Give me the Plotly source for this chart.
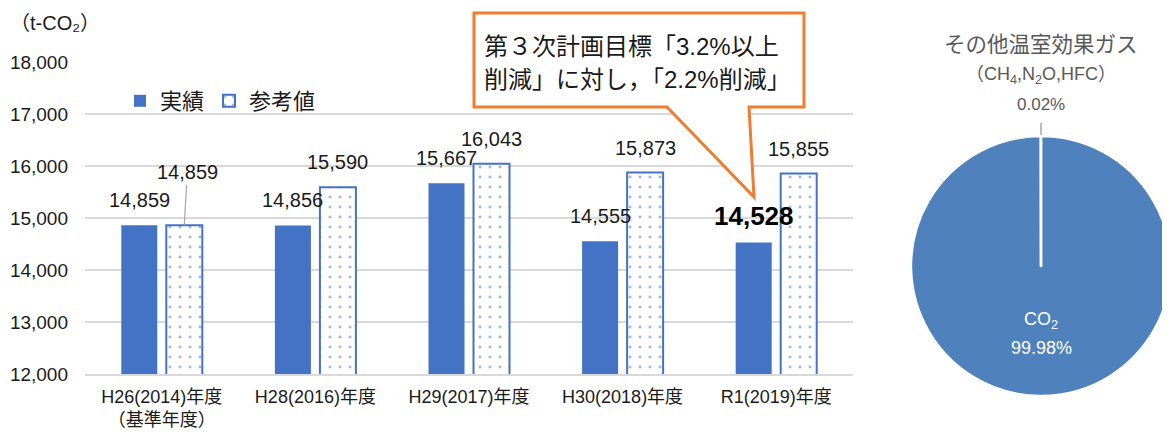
import plotly.graph_objects as go

# ---------------- data ----------------
categories = ["H26(2014)年度<br>（基準年度）", "H28(2016)年度", "H29(2017)年度",
              "H30(2018)年度", "R1(2019)年度"]
actual = [14859, 14856, 15667, 14555, 14528]
reference = [14859, 15590, 16043, 15873, 15855]
series_names = ["実績", "参考値"]
y_ticks = [12000, 13000, 14000, 15000, 16000, 17000, 18000]

pie_labels = ["CO<sub>2</sub>", "その他温室効果ガス"]
pie_sub = ["", "（CH<sub>4</sub>,N<sub>2</sub>O,HFC）"]
pie_values = [99.98, 0.02]

unit_label = "（t-CO₂）"
callout_lines = ["第３次計画目標「3.2%以上", "削減」に対し，「2.2%削減」"]

BOLD_INDEX = 4      # highlighted actual value
LEADER_INDEX = 0    # reference label lifted with leader line

# ---------------- styles ----------------
# the page body has an 8px default margin; figure coordinates are offset by it
OX, OY = 8, 8
W, H = 1163, 424
FONT = "Liberation Sans, Arial, Noto Sans CJK JP, sans-serif"
BLUE = "#4472C4"
PIE_BLUE = "#4F81BD"
ORANGE = "#ED7D31"
GRID = "#D9D9D9"
TXT = "#1a1a1a"
GRAYTXT = "#595959"


def px_x(x):
    return (x - OX) / W


def px_y(y):
    return 1 - (y - OY) / H


fig = go.Figure()

fig.add_trace(go.Bar(
    x=categories, y=actual, name=series_names[0],
    marker=dict(color=BLUE, line=dict(color=BLUE, width=0)),
    hoverinfo="skip",
))
fig.add_trace(go.Bar(
    x=categories, y=reference, name=series_names[1],
    marker=dict(color="white", line=dict(color=BLUE, width=2),
                pattern=dict(shape=".", fgcolor=BLUE, bgcolor="white",
                             size=10, solidity=0.07)),
    hoverinfo="skip",
))

fig.add_trace(go.Pie(
    labels=pie_labels, values=pie_values, sort=False, direction="clockwise",
    rotation=0, textinfo="none", showlegend=False, hoverinfo="skip",
    marker=dict(colors=[PIE_BLUE, "#A5A5A5"], line=dict(color="white", width=2.5)),
    domain=dict(x=[px_x(911), 1.0], y=[px_y(396), px_y(136)]),
))

annotations = []
OFF = 22.5
for i, cat in enumerate(categories):
    bold = i == BOLD_INDEX
    txt = f"{actual[i]:,}"
    annotations.append(dict(
        x=cat, y=actual[i], xref="x", yref="y", xshift=-OFF,
        yshift=27 if bold else 25, xanchor="center", yanchor="middle",
        text=f"<b>{txt}</b>" if bold else txt, showarrow=False,
        font=dict(size=26 if bold else 20, color="black" if bold else TXT, family=FONT),
    ))
    rtxt = f"{reference[i]:,}"
    if i == LEADER_INDEX:
        annotations.append(dict(
            x=cat, y=reference[i], xref="x", yref="y", xshift=OFF,
            text=rtxt, showarrow=True, arrowhead=0, arrowwidth=1.2,
            arrowcolor="#A6A6A6", ax=3, ay=-53, standoff=0,
            font=dict(size=20, color=TXT, family=FONT),
        ))
    else:
        annotations.append(dict(
            x=cat, y=reference[i], xref="x", yref="y", xshift=OFF,
            yshift=25, xanchor="center", yanchor="middle", text=rtxt,
            showarrow=False, font=dict(size=20, color=TXT, family=FONT),
        ))

# unit label
annotations.append(dict(x=px_x(8), y=px_y(23), xref="paper", yref="paper",
                        xanchor="left", yanchor="middle", text=unit_label,
                        showarrow=False, font=dict(size=20, color=TXT, family=FONT)))

# callout text
for k, ly in enumerate([46, 80]):
    annotations.append(dict(x=px_x(482), y=px_y(ly), xref="paper", yref="paper",
                            xanchor="left", yanchor="middle", text=callout_lines[k],
                            showarrow=False, font=dict(size=24, color=TXT, family=FONT)))

# pie labels
pcx = px_x(1041)
pie_ann = [
    (pie_labels[1], 45, 21.5, GRAYTXT),
    (pie_sub[1], 76, 18, GRAYTXT),
    (f"{pie_values[1]:.2f}%", 105, 17, GRAYTXT),
    (pie_labels[0], 320, 18, "white"),
    (f"{pie_values[0]:.2f}%", 348, 18, "white"),
]
for text, yy, fs, col in pie_ann:
    annotations.append(dict(x=pcx, y=px_y(yy), xref="paper", yref="paper",
                            xanchor="center", yanchor="middle", text=text,
                            showarrow=False, font=dict(size=fs, color=col, family=FONT)))

# callout bubble
pts = [(474, 13), (804, 13), (804, 107), (749, 107), (754, 197), (667, 107), (474, 107)]
path = "M " + " L ".join(f"{px_x(x):.5f},{px_y(y):.5f}" for x, y in pts) + " Z"
shapes = [
    dict(type="path", xref="paper", yref="paper", path=path,
         fillcolor="white", line=dict(color=ORANGE, width=3), layer="above"),
    dict(type="line", xref="paper", yref="paper", x0=pcx, x1=pcx,
         y0=px_y(123), y1=px_y(135), line=dict(color="#A6A6A6", width=1.5)),
]

fig.update_layout(
    width=W, height=H,
    margin=dict(l=0, r=0, t=0, b=0),
    paper_bgcolor="white", plot_bgcolor="white",
    font=dict(family=FONT, color=TXT),
    barmode="group", bargap=0.414, bargroupgap=0.2,
    showlegend=True,
    legend=dict(orientation="h", x=px_x(120), y=px_y(101), xanchor="left",
                yanchor="middle", font=dict(size=22, color=TXT, family=FONT),
                bgcolor="rgba(0,0,0,0)", itemwidth=30),
    xaxis=dict(domain=[px_x(85), px_x(853)], showgrid=False, showline=True,
               linecolor=GRID, linewidth=2, ticks="", automargin=False,
               ticklabelstandoff=5,
               tickfont=dict(size=18, color=TXT, family=FONT)),
    yaxis=dict(domain=[px_y(374), px_y(62)], range=[12000, 18000],
               tickvals=y_ticks, tickformat=",d", showgrid=True,
               gridcolor=GRID, gridwidth=2, zeroline=False, ticks="",
               automargin=False, ticklabelstandoff=16,
               tickfont=dict(size=19, color=TXT, family=FONT)),
    annotations=annotations,
    shapes=shapes,
)

fig.write_html("out.html")
